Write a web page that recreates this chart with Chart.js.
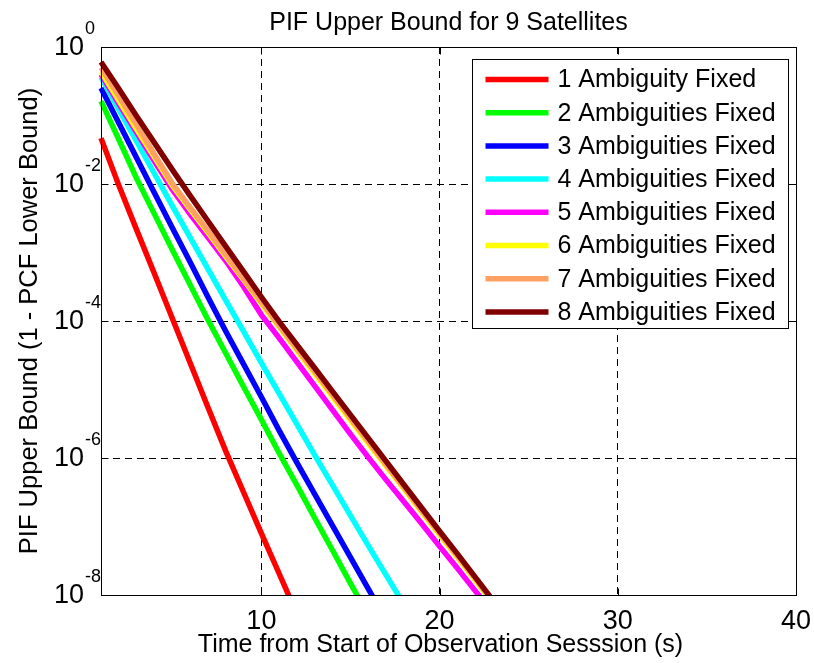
<!DOCTYPE html>
<html>
<head>
<meta charset="utf-8">
<title>PIF Upper Bound</title>
<script src="https://cdn.jsdelivr.net/npm/chart.js@4.4.1/dist/chart.umd.min.js"></script>
<style>
  html, body { margin: 0; padding: 0; background: #fff; }
  #wrap { position: relative; width: 814px; height: 663px; }
</style>
</head>
<body>
<div id="wrap"><canvas id="pif"></canvas></div>
<script>
const FONT = '"Liberation Sans", Arial, Helvetica, sans-serif';
const TITLE = "PIF Upper Bound for 9 Satellites";
const X_TITLE = "Time from Start of Observation Sesssion (s)";

// seconds since the start of the session
const times = [1, 2, 3, 4, 5, 6, 7, 8, 9, 10, 11, 12, 13, 14, 15, 16, 17, 18, 19, 20, 21, 22, 23];

// log10 of the PIF upper bound, one list per number of fixed ambiguities
const fixed1 = [-1.33, -2.02, -2.67, -3.31, -3.96, -4.61, -5.26, -5.90, -6.50, -7.10, -7.69, -8.28];
const fixed2 = [-0.79, -1.35, -1.92, -2.44, -2.96, -3.47, -3.98, -4.47, -4.96, -5.44, -5.93, -6.40, -6.88, -7.35, -7.83, -8.30];
const fixed3 = [-0.60, -1.11, -1.62, -2.13, -2.64, -3.14, -3.65, -4.15, -4.63, -5.11, -5.60, -6.07, -6.53, -6.99, -7.45, -7.91, -8.37];
const fixed4 = [-0.44, -0.91, -1.38, -1.85, -2.32, -2.78, -3.24, -3.70, -4.15, -4.61, -5.06, -5.51, -5.96, -6.40, -6.84, -7.28, -7.71, -8.14];
const fixed5 = [-0.40, -0.83, -1.25, -1.67, -2.08, -2.44, -2.78, -3.12, -3.50, -3.91, -4.25, -4.60, -4.95, -5.30, -5.65, -5.99, -6.32, -6.64, -6.96, -7.29, -7.61, -7.94, -8.26];
const fixed6 = [-0.36, -0.78, -1.20, -1.61, -2.02, -2.37, -2.71, -3.06, -3.40, -3.75, -4.09, -4.43, -4.77, -5.11, -5.45, -5.79, -6.12, -6.45, -6.79, -7.12, -7.45, -7.78, -8.12];
const fixed7 = [-0.30, -0.72, -1.14, -1.57, -1.99, -2.34, -2.68, -3.03, -3.38, -3.72, -4.07, -4.41, -4.74, -5.08, -5.42, -5.76, -6.10, -6.43, -6.77, -7.10, -7.43, -7.76, -8.10];
const fixed8 = [-0.22, -0.61, -1.01, -1.40, -1.79, -2.17, -2.54, -2.91, -3.28, -3.65, -4.01, -4.35, -4.69, -5.03, -5.37, -5.71, -6.05, -6.39, -6.73, -7.07, -7.40, -7.74, -8.08];

const labels = [
  "1 Ambiguity Fixed", "2 Ambiguities Fixed", "3 Ambiguities Fixed", "4 Ambiguities Fixed",
  "5 Ambiguities Fixed", "6 Ambiguities Fixed", "7 Ambiguities Fixed", "8 Ambiguities Fixed",
];
const colors = ["#ff0000", "#00ff00", "#0000ff", "#00ffff", "#ff00ff", "#ffff00", "#ffa064", "#800000"];

const xTicks = [10, 20, 30, 40];
const yExponents = [0, -2, -4, -6, -8];

const series = [fixed1, fixed2, fixed3, fixed4, fixed5, fixed6, fixed7, fixed8];

// titles, axes frame, inward tick marks, 10^n labels and the boxed legend
const decorations = {
  id: "decorations",
  afterDatasetsDraw(chart) {
    const { ctx, chartArea: ca, scales } = chart;
    const L = Math.round(ca.left) + 0.5, R = Math.round(ca.right) + 0.5;
    const T = Math.round(ca.top) + 0.5, B = Math.round(ca.bottom) + 0.5;
    ctx.save();

    ctx.fillStyle = "#000";
    ctx.font = "25px " + FONT;
    ctx.textAlign = "center";
    ctx.textBaseline = "middle";
    ctx.fillText(TITLE, (ca.left + ca.right) / 2, 23);
    ctx.fillText(X_TITLE, (ca.left + ca.right) / 2 - 8, chart.height - 18);

    // legend
    const lx = Math.round(ca.right) - 324 + 0.5, ly = Math.round(ca.top) + 12 + 0.5;
    const lw = 316, lh = 269, row = 33.2;
    ctx.fillStyle = "#fff";
    ctx.fillRect(lx, ly, lw, lh);
    ctx.strokeStyle = "#000";
    ctx.lineWidth = 1;
    ctx.strokeRect(lx, ly, lw, lh);
    ctx.font = "25px " + FONT;
    ctx.textAlign = "left";
    ctx.textBaseline = "middle";
    chart.data.datasets.forEach((ds, i) => {
      const cy = ly + 20 + i * row;
      ctx.strokeStyle = ds.borderColor;
      ctx.lineWidth = 5.5;
      ctx.beginPath();
      ctx.moveTo(lx + 13, cy);
      ctx.lineTo(lx + 76, cy);
      ctx.stroke();
      ctx.fillStyle = "#000";
      ctx.fillText(ds.label, lx + 85, cy + 1);
    });

    // frame
    ctx.strokeStyle = "#000";
    ctx.lineWidth = 1;
    ctx.strokeRect(L, T, R - L, B - T);

    // tick marks pointing into the plot
    ctx.beginPath();
    xTicks.forEach((v) => {
      const px = Math.round(scales.x.getPixelForValue(v)) + 0.5;
      ctx.moveTo(px, B); ctx.lineTo(px, B - 7);
      ctx.moveTo(px, T); ctx.lineTo(px, T + 7);
    });
    yExponents.forEach((e) => {
      const py = Math.round(scales.y.getPixelForValue(Math.pow(10, e))) + 0.5;
      ctx.moveTo(L, py); ctx.lineTo(L + 7, py);
      ctx.moveTo(R, py); ctx.lineTo(R - 7, py);
    });
    ctx.stroke();

    // y tick labels as 10 with a raised exponent
    ctx.fillStyle = "#000";
    yExponents.forEach((e) => {
      const py = scales.y.getPixelForValue(Math.pow(10, e));
      ctx.font = "27px " + FONT;
      ctx.textAlign = "right";
      ctx.textBaseline = "middle";
      ctx.fillText("10", ca.left - 17, py + 1);
      ctx.font = "18px " + FONT;
      ctx.textAlign = "left";
      ctx.fillText(String(e), ca.left - 16, py - 18);
    });
    ctx.restore();
  },
};

Chart.defaults.font.family = FONT;
Chart.defaults.color = "#000";

new Chart(document.getElementById("pif"), {
  type: "line",
  data: {
    datasets: series.map((vals, i) => ({
      label: labels[i],
      data: vals.map((v, k) => ({ x: times[k], y: Math.pow(10, v) })),
      borderColor: colors[i],
      backgroundColor: colors[i],
      borderWidth: 5.5,
      pointRadius: 0,
      tension: 0,
      fill: false,
      order: series.length - i,
      clip: { left: 4, top: 4, right: 0, bottom: 0 },
    })),
  },
  options: {
    animation: false,
    responsive: true,
    maintainAspectRatio: false,
    events: [],
    layout: { padding: { top: 47, right: 18, bottom: 0, left: 0 } },
    plugins: {
      legend: { display: false },
      tooltip: { enabled: false },
      title: { display: false },
    },
    scales: {
      x: {
        type: "linear",
        min: 1,
        max: 40,
        afterBuildTicks: (scale) => {
          scale.ticks = xTicks.map((v) => ({ value: v }));
        },
        afterFit: (scale) => {
          scale.height = 68;
          scale.paddingLeft = 0;
          scale.paddingRight = 0;
        },
        ticks: { font: { size: 27 }, color: "#000", padding: 10, maxRotation: 0 },
        grid: { color: "#000", lineWidth: 1, drawTicks: false },
        border: { display: false, dash: [7, 5] },
      },
      y: {
        type: "logarithmic",
        min: 1e-8,
        max: 1,
        afterBuildTicks: (scale) => {
          scale.ticks = yExponents.map((e) => ({ value: Math.pow(10, e) }));
        },
        afterFit: (scale) => {
          scale.width = 101;
          scale.paddingTop = 0;
          scale.paddingBottom = 0;
        },
        ticks: { display: false },
        grid: { color: "#000", lineWidth: 1, drawTicks: false },
        border: { display: false, dash: [7, 5] },
        title: {
          display: true,
          text: "PIF Upper Bound (1 - PCF Lower Bound)",
          color: "#000",
          font: { size: 25.5 },
          padding: { top: 15, bottom: 0 },
        },
      },
    },
  },
  plugins: [decorations],
});
</script>
</body>
</html>
